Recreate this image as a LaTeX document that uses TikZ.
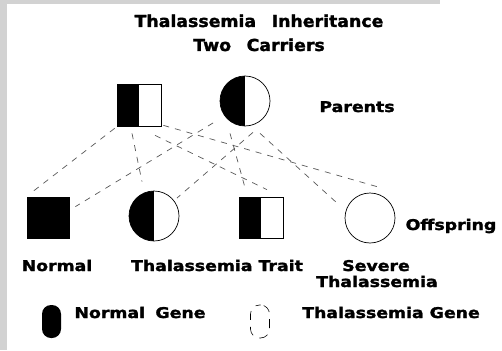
\documentclass[tikz,border=0pt]{standalone}
\usepackage{fontspec}
\setmainfont{DejaVu Sans}
\newfontfamily\heavy{DejaVu Sans Bold}[FakeBold=1.6]
\usetikzlibrary{calc}
\tikzset{
 lbl/.style={font=\heavy\fontsize{14.8}{15}\selectfont, xscale=1.17, inner sep=0pt, anchor=base},
 ttl/.style={font=\heavy\fontsize{16.5}{17}\selectfont, xscale=1.05, inner sep=0pt, anchor=base},
 male/.style={draw=black, line width=0.7pt, rectangle, minimum width=44pt, minimum height=42pt, inner sep=0pt},
 female/.style={draw=black, line width=0.7pt, circle, minimum size=50pt, inner sep=0pt},
 halfblack/.style={path picture={\fill[black] (path picture bounding box.north west) rectangle (path picture bounding box.south);}},
 gene/.style={rectangle, rounded corners=9pt, minimum width=19pt, minimum height=33pt, inner sep=0pt},
 link/.style={draw=black!65, line width=0.7pt, dash pattern=on 6pt off 6pt},
}
\begin{document}
\begin{tikzpicture}[x=1pt,y=-1pt]
\useasboundingbox (0,0) rectangle (502,350);
\fill[white] (0,0) rectangle (502,350);
\fill[gray!35] (0,0) rectangle (7,350);
\fill[gray!35] (0,0) rectangle (440,4);

% titles
\node[ttl] (t1) at (259,27) {Thalassemia\hspace{0.9em}Inheritance};
\node[ttl] (t2) at (259,51) {Two\hspace{0.9em}Carriers};

% parents
\node[male, halfblack] (father) at (139,105) {};
\node[female, halfblack] (mother) at (245,101) {};
\node[lbl] (par) at (357,112) {Parents};

% offspring
\node[male, fill=black, minimum width=42pt, minimum height=41pt] (norm) at (48,217.5) {};
\node[female, halfblack] (trc) at (154,216) {};
\node[male, halfblack, minimum height=41pt] (trs) at (261,217.5) {};
\node[female] (sev) at (370,218) {};
\node[lbl] (off) at (451,230) {Offspring};

% links
\draw[link] ($(father.south west)+(-2,2)$) -- ($(norm.north west)+(6,-5)$);
\draw[link] ($(father.south)+(-7,7)$) -- ($(trc.north)+(-12,-9)$);
\draw[link] ($(father.south)+(16,9)$) -- ($(trs.north)+(6,-7)$);
\draw[link] ($(father.south east)+(2,-1)$) -- ($(sev.north)+(7,-6)$);
\draw[link] ($(mother.south west)+(-14,4)$) -- ($(norm.north east)+(6,10)$);
\draw[link] ($(mother.south)+(8,6)$) -- ($(trc.north east)+(5,0)$);
\draw[link] ($(mother.south)+(-15,7)$) -- ($(trs.north)+(-16,-9)$);
\draw[link] ($(mother.south)+(15,7)$) -- ($(sev.north west)+(-15,3)$);

% labels
\node[lbl] (ln) at (57,271) {Normal};
\node[lbl] (lt) at (217,271) {Thalassemia Trait};
\node[lbl] (ls1) at (376,271) {Severe};
\node[lbl] (ls2) at (377,287) {Thalassemia};

% legend
\node[gene, fill=black] (ng) at (51.5,321.5) {};
\node[lbl] (lng) at (140,318) {Normal\hspace{0.6em}Gene};
\node[gene, draw=black, line width=0.6pt, dash pattern=on 9pt off 7pt, dash phase=4pt] (tg) at (260,321.5) {};
\node[lbl] (ltg) at (391,318) {Thalassemia Gene};
\end{tikzpicture}
\end{document}
